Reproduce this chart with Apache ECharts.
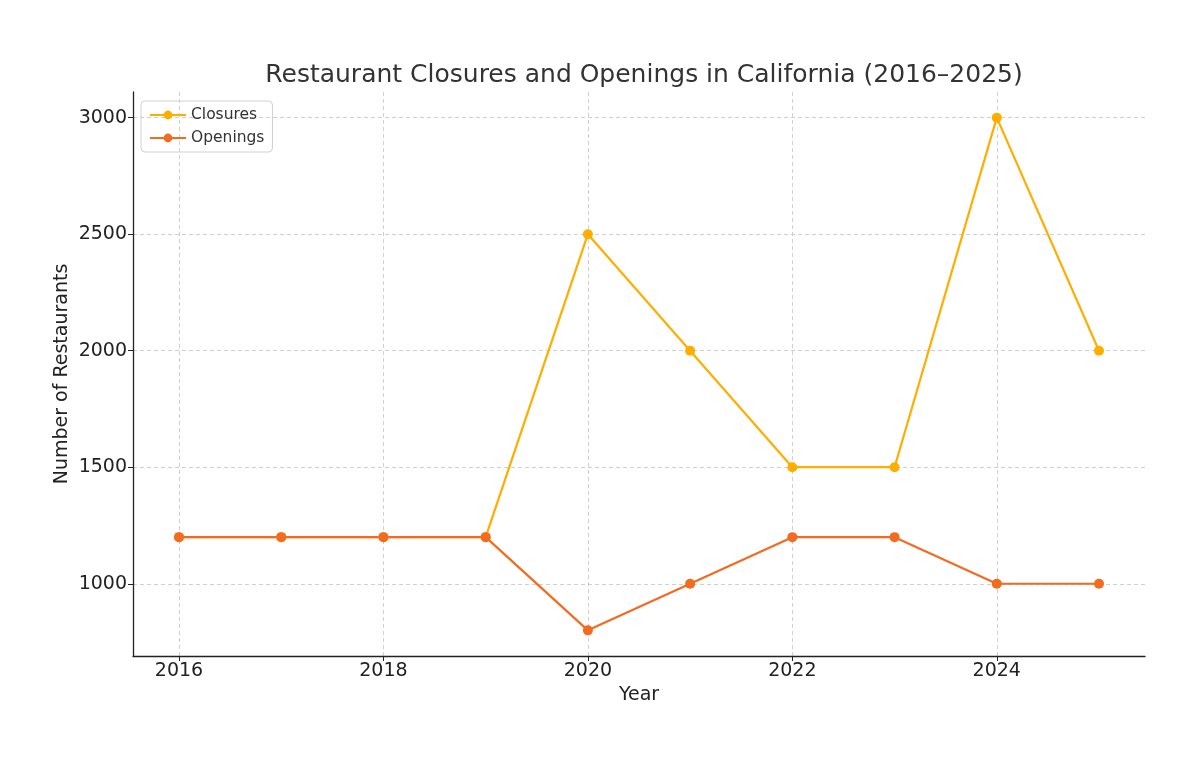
<!DOCTYPE html>
<html>
<head>
<meta charset="utf-8">
<script src="https://cdn.jsdelivr.net/npm/echarts@6/dist/echarts.min.js"></script>
<style>html,body{margin:0;padding:0;background:#fff}#c{width:1200px;height:769px}</style>
</head>
<body>
<div id="c"></div>
<script>
const years = [2016, 2017, 2018, 2019, 2020, 2021, 2022, 2023, 2024, 2025];
const closures = [1200, 1200, 1200, 1200, 2500, 2000, 1500, 1500, 3000, 2000];
const openings = [1200, 1200, 1200, 1200, 800, 1000, 1200, 1200, 1000, 1000];
const xTicks = [2016, 2018, 2020, 2022, 2024];
const yTicks = [1000, 1500, 2000, 2500, 3000];

const font = 'DejaVu Sans';
const chart = echarts.init(document.getElementById('c'), null, {renderer: 'canvas'});
chart.setOption({
  backgroundColor: '#fff',
  animation: false,
  title: {
    text: 'Restaurant Closures and Openings in California (2016\u20132025)',
    left: 639, top: 58, textAlign: 'center',
    textStyle: {fontFamily: font, fontSize: 25, fontWeight: 'normal', color: '#333'}
  },
  legend: {
    orient: 'vertical', left: 141, top: 101,
    itemWidth: 36, itemHeight: 11, itemGap: 7,
    borderColor: '#d0d0d0', borderWidth: 1, borderRadius: 4, padding: [6, 8, 6, 8],
    textStyle: {fontFamily: font, fontSize: 15.5, color: '#333'},
    data: ['Closures', 'Openings']
  },
  grid: {left: 133, right: 55, top: 92, bottom: 113},
  xAxis: {
    type: 'value', min: 2015.55, max: 2025.45,
    name: 'Year', nameLocation: 'middle', nameGap: 30, nameMoveOverlap: false,
    nameTextStyle: {fontFamily: font, fontSize: 19, color: '#222'},
    axisLine: {show: true, onZero: false, lineStyle: {color: '#222', width: 1.3}},
    axisTick: {show: true, inside: false, length: 5, customValues: xTicks, lineStyle: {color: '#222'}},
    axisLabel: {customValues: xTicks, fontFamily: font, fontSize: 19, color: '#222', margin: 6, formatter: v => String(v)},
    splitLine: {show: true, lineStyle: {color: '#c4c4c4', type: [4, 3], width: 0.8}}
  },
  yAxis: {
    type: 'value', min: 690, max: 3110,
    name: 'Number of Restaurants', nameLocation: 'middle', nameGap: 61, nameMoveOverlap: false,
    nameTextStyle: {fontFamily: font, fontSize: 19, color: '#222'},
    axisLine: {show: true, onZero: false, lineStyle: {color: '#222', width: 1.3}},
    axisTick: {show: true, inside: false, length: 5, customValues: yTicks, lineStyle: {color: '#222'}},
    axisLabel: {customValues: yTicks, fontFamily: font, fontSize: 19, color: '#222', margin: 6, formatter: v => String(v)},
    splitLine: {show: true, lineStyle: {color: '#c4c4c4', type: [4, 3], width: 0.8}}
  },
  series: [
    {
      name: 'Closures', type: 'line',
      data: years.map((y, i) => [y, closures[i]]),
      symbol: 'circle', symbolSize: 10,
      itemStyle: {color: '#FFAE00'},
      lineStyle: {color: '#FFAE00', width: 2.2}
    },
    {
      name: 'Openings', type: 'line',
      data: years.map((y, i) => [y, openings[i]]),
      symbol: 'circle', symbolSize: 10,
      itemStyle: {color: '#F26B21'},
      lineStyle: {color: '#F26B21', width: 2.2}
    }
  ]
});
</script>
</body>
</html>
